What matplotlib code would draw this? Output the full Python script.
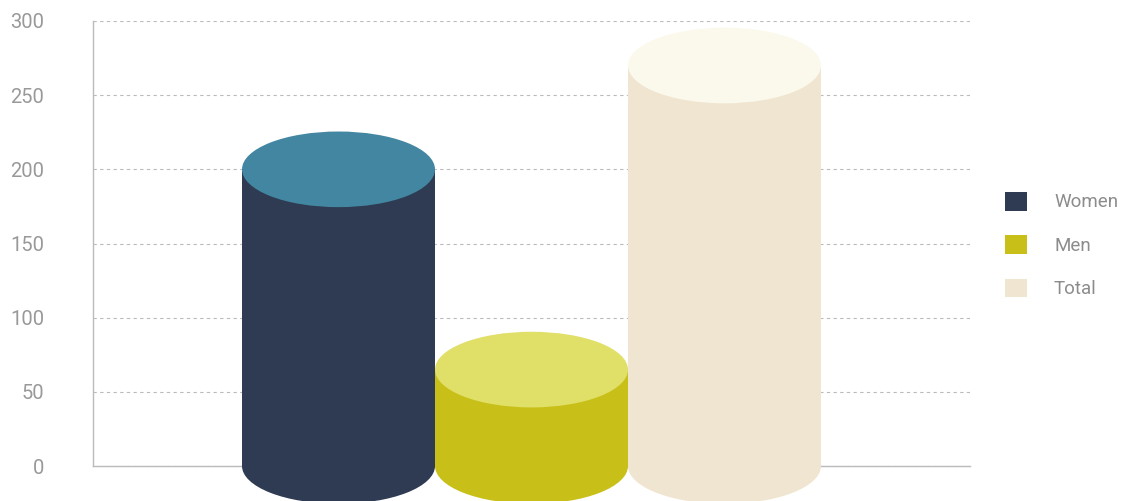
import matplotlib.pyplot as plt
from matplotlib.patches import Rectangle, Ellipse, Patch

# data
labels = ['Women', 'Men', 'Total']
values = [200, 65, 270]
body_colors = ['#2e3b52', '#c8c019', '#f0e5d0']
top_colors = ['#4286a1', '#e0df68', '#fbf8ec']
yticks = [0, 50, 100, 150, 200, 250, 300]

plt.rcParams['font.family'] = ['Roboto', 'DejaVu Sans']

fig = plt.figure(figsize=(11.23, 5.01), dpi=100)
ax = fig.add_axes([93 / 1123, 1 - 466 / 501, 877 / 1123, 445 / 501])

ax.set_xlim(-1.272, 3.272)
ax.set_ylim(0, 300)

# cylinder cap height in data units
cap_h = 51

for i, (v, bc, tc) in enumerate(zip(values, body_colors, top_colors)):
    ax.add_patch(Ellipse((i, 0), 1, cap_h, facecolor=bc, edgecolor='none',
                         clip_on=False, zorder=3))
    ax.add_patch(Rectangle((i - 0.5, 0), 1, v, facecolor=bc, edgecolor='none',
                           clip_on=False, zorder=3))
    ax.add_patch(Ellipse((i, v), 1, cap_h, facecolor=tc, edgecolor='none',
                         clip_on=False, zorder=4))

# grid / axes
ax.set_yticks(yticks)
ax.set_xticks([])
ax.yaxis.grid(True, color='#bbbbbb', linestyle=(0, (3, 3)), linewidth=0.8)
ax.set_axisbelow(True)
for s in ['top', 'right']:
    ax.spines[s].set_visible(False)
for s in ['left', 'bottom']:
    ax.spines[s].set_color('#bbbbbb')
    ax.spines[s].set_linewidth(1)
    ax.spines[s].set_zorder(1)
ax.tick_params(axis='y', length=0, pad=35, labelsize=14.5, labelcolor='#999999')

handles = [Patch(facecolor=c, edgecolor='none') for c in body_colors]
fig.legend(handles, labels, loc='center left', bbox_to_anchor=(988 / 1123, 256 / 501),
           frameon=False, fontsize=13.5, labelcolor='#8c8c8c',
           handlelength=1.17, handleheight=1.17, handletextpad=1.45, labelspacing=1.26)

fig.savefig('out.png', dpi=100)
